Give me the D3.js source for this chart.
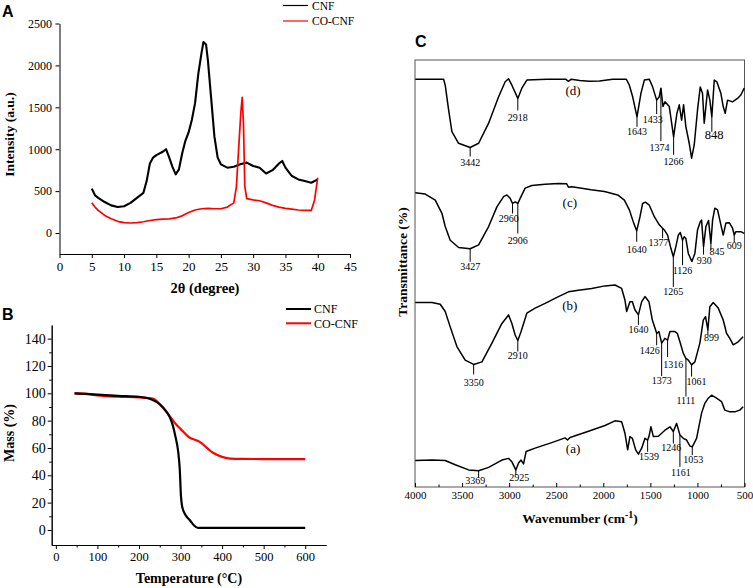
<!DOCTYPE html>
<html><head><meta charset="utf-8">
<script src="https://cdn.jsdelivr.net/npm/d3@7"></script>
<style>
body{margin:0;background:#fff}
svg{display:block}
.axis path,.axis line{stroke:#000;stroke-width:1}
</style>
</head><body>
<svg id="chart" width="753" height="588"></svg>
<script>
// ---------- Panel A: XRD ----------
const xrdTicksX = [0,5,10,15,20,25,30,35,40,45];
const xrdTicksY = [0,500,1000,1500,2000,2500];
const cnfTheta = [5,5.5,6,7,8,9,10,11,12,13,13.5,14,14.5,15,16,16.5,17,17.5,18,18.5,19,19.5,20,20.5,21,21.5,22,22.3,22.7,23,23.5,24,24.5,25,26,27,28,29,30,31,32,33,34,34.5,35,36,37,38,39,40];
const cnfIntensity = [530,450,420,370,330,310,320,360,420,480,620,830,900,930,970,1000,900,790,700,760,950,1100,1200,1350,1550,1900,2150,2280,2250,2050,1600,1150,900,820,780,790,820,840,800,780,710,750,830,860,780,680,640,620,600,640];
const coTheta = [5,5.5,6,7,8,9,10,11,12,13,14,15,16,17,18,19,20,21,22,23,24,25,26,27,27.4,27.8,28.1,28.3,28.5,28.7,29,30,31,32,33,34,35,36,37,38,39,39.5,40];
const coIntensity = [360,310,270,210,170,140,125,120,125,135,150,160,165,170,180,205,245,275,290,295,290,290,310,360,550,1070,1450,1620,1300,560,410,395,385,360,330,310,295,285,275,270,270,390,660];

// ---------- Panel B: TGA ----------
const tgaTicksX = [0,100,200,300,400,500,600];
const tgaTicksY = [0,20,40,60,80,100,120,140];
const cnfTemp = [45,100,150,200,230,250,265,280,288,294,298,301,304,312,322,332,342,400,500,600];
const cnfMass = [100,99,98.2,97.5,95.5,92,87,78,68,58,45,25,17,11,7.3,3.5,1.5,1.5,1.5,1.5];
const coTemp = [45,70,100,150,200,235,250,270,290,300,320,346,378,400,420,450,500,600];
const coMass = [100,99.8,98.5,97.5,97,96,92,85,77,74,68,64.5,56.5,53.5,52.2,52,51.9,51.8];

const seriesNames = ["CNF","CO-CNF"];
const seriesColors = ["#000000","#ff0000"];

// ---------- Panel C: FTIR ----------
const ftirTicks = [4000,3500,3000,2500,2000,1500,1000,500];
const wnD = [3997,3696,3679,3643,3608,3537,3414,3324,3218,3112,3042,3006,2971,2908,2865,2812,2600,2400,2370,2340,2250,2150,2040,1900,1755,1723,1688,1642,1600,1564,1511,1476,1433,1405,1388,1366,1345,1299,1253,1218,1193,1168,1147,1123,1087,1062,1034,999,970,946,928,892,868,847,821,794,751,726,705,680,627,574,539,503];
const tD = [95.5,95.5,94.1,88.3,83.2,80.5,79.5,80.5,85.2,91.4,94.9,95.6,94.1,91.0,93.4,95.3,95.5,95.5,95.0,95.5,95.2,95.0,95.1,95.5,95.5,94.1,91.4,86.7,92.2,95.3,95.5,93.7,90.6,91.4,93.4,89.1,90.2,89.1,82.0,87.5,89.5,85.9,89.5,84.4,80.5,77.0,80.1,88.3,93.7,92.2,85.2,93.0,90.6,86.7,95.3,94.9,92.2,89.1,87.5,90.6,90.2,91.0,91.8,93.4];
const wnC = [3997,3891,3785,3714,3679,3626,3537,3414,3324,3218,3130,3059,3024,2989,2964,2936,2908,2883,2830,2759,2618,2476,2388,2370,2335,2264,2130,1988,1847,1776,1723,1677,1645,1610,1582,1553,1511,1458,1405,1370,1352,1317,1282,1256,1229,1203,1182,1158,1140,1123,1097,1059,1027,999,970,956,935,910,882,857,839,815,786,751,726,698,662,627,609,592,539,503];
const tC = [68.9,68.6,67.2,64.1,61.0,57.8,56.1,55.8,56.7,61.0,65.6,68.0,68.4,67.6,66.4,66.8,66.4,67.6,70.0,70.6,70.9,71.1,71.0,70.2,70.3,70.1,69.6,69.2,68.4,67.2,64.9,61.8,60.0,63.3,66.4,66.7,66.0,63.3,61.4,60.6,60.2,59.0,55.9,53.9,56.3,59.0,59.6,57.8,58.6,58.2,54.7,52.8,54.7,60.2,62.1,62.5,56.3,61.0,62.4,57.1,62.5,65.3,64.9,61.4,59.0,61.8,61.9,60.6,59.0,59.8,59.8,59.4];
const wnB = [3997,3820,3732,3679,3626,3555,3467,3377,3289,3183,3077,3006,2971,2936,2908,2873,2812,2724,2618,2476,2370,2264,2123,1982,1876,1805,1770,1752,1717,1691,1664,1627,1592,1557,1515,1479,1433,1409,1380,1345,1317,1292,1239,1214,1186,1150,1122,1097,1062,1027,974,938,914,889,868,832,779,726,691,656,620,567,514];
const tB = [43.2,43.2,42.8,41.1,37.5,32.9,29.7,28.7,29.3,33.7,38.3,40.3,38.3,35.6,34.3,36.4,40.7,41.9,43.0,44.6,45.7,46.1,46.5,47.1,47.3,46.5,43.8,41.1,43.4,43.4,41.5,40.3,43.4,44.6,43.4,39.1,36.0,36.4,33.7,34.8,34.4,36.4,36.4,36.0,34.0,31.3,30.1,29.7,28.6,29.3,33.7,39.1,39.9,36.8,42.2,43.2,41.9,39.1,36.0,34.8,33.3,34.0,35.2];
const wnA = [3997,3820,3679,3573,3430,3324,3218,3077,3006,2971,2929,2900,2873,2847,2820,2724,2547,2406,2380,2353,2165,1982,1876,1805,1770,1741,1717,1691,1656,1627,1592,1557,1529,1515,1494,1468,1415,1345,1292,1256,1221,1186,1150,1115,1080,1055,1009,956,921,885,850,797,744,709,656,603,550,514];
const tA = [6.2,6.3,6.2,5.2,4.0,3.8,4.6,6.3,6.7,5.9,4.0,5.6,6.3,5.4,8.3,9.1,10.4,11.5,11.0,11.6,13.0,14.4,15.5,15.3,12.6,8.7,11.8,11.4,8.7,7.7,9.1,11.4,11.0,11.8,14.1,11.8,11.9,13.3,14.1,13.0,14.9,12.2,11.4,11.0,9.6,9.4,11.4,17.3,19.6,20.8,21.5,20.8,20.0,18.0,17.6,17.6,18.0,18.8];

// peak positions and their printed labels
const peaksD = [3414,2908,1642,1433,1388,1253,847];
const peakLabelsD = ["3442","2918","1643","1433","1374","1266","848"];
const peaksC = [3414,2964,2908,1645,1370,1256,1158,935,857,609];
const peakLabelsC = ["3427","2960","2906","1640","1377","1265","1126","930","845","609"];
const peaksB = [3377,2908,1627,1433,1380,1317,1122,1062,889];
const peakLabelsB = ["3350","2910","1640","1426","1373","1316","1111","1061","899"];
const peaksA = [3324,2929,1529,1256,1186,1055];
const peakLabelsA = ["3369","2925","1539","1246","1161","1053"];
const curveNames = ["(a)","(b)","(c)","(d)"];

// layout for leader lines: [length, label dx, label dy, font size]
const leadD = [[9,0,9.5,10],[12,0,11,10],[10,0,8.5,10],[14,-4,9,10],[53,-1.5,10,10],[18,0,10,10],[15,2.4,7.5,12.5]];
const leadC = [[13,0,8.5,10],[10,-3.7,8.5,10],[30,0,10.5,10],[11,0,11.6,10],[10,-4,8,10],[30,0,8.3,10],[25,0,9,10],[8,0.7,9,10],[6.7,6,5,10],[7,0,7,10]];
const leadB = [[10,0,11.7,10],[11,0,7.6,10],[10,0,8.3,10],[12,-7,9,10],[33,0,8.3,10],[17,5.7,11,10],[38,0,7.3,10],[11.7,5,8.3,10],[5,3.5,6,10]];
const leadA = [[7,-3.4,6,10],[5,3.3,6,10],[11.7,1.3,8.3,10],[12,-2,8,10],[32,1,9.4,10],[8.3,1,7.7,10]];
const curveLabelPos = [[2321,8.0],[2356,41.5],[2356,65.6],[2321,91.8]];

const SERIF = "'Liberation Serif','Times New Roman','DejaVu Serif',serif";
const SANS = "'Liberation Sans',Arial,sans-serif";
const fmt = d3.format("d");
const svg = d3.select("#chart");

// ================= Panel A =================
{
  const xA = d3.scaleLinear().domain([0,45]).range([59.5,350]);
  const yA = d3.scaleLinear().domain([-250,2500]).range([254,23.5]);
  const g = svg.append("g");
  g.append("g").attr("class","axis").attr("transform","translate(0,254)")
    .call(d3.axisBottom(xA).tickValues(xrdTicksX).tickFormat(fmt).tickSize(4).tickSizeOuter(0).tickPadding(4))
    .call(s=>s.selectAll("text").style("font-size","13px"));
  g.append("g").attr("class","axis").attr("transform","translate(59.5,0)")
    .call(d3.axisLeft(yA).tickValues(xrdTicksY).tickFormat(fmt).tickSize(4).tickSizeOuter(0).tickPadding(3.5))
    .call(s=>s.selectAll("text").style("font-size","12px"));
  const line = d3.line().x(d=>xA(d[0])).y(d=>yA(d[1]));
  g.append("path").datum(cnfTheta.map((t,i)=>[t,cnfIntensity[i]]))
    .attr("d",line).attr("fill","none").attr("stroke",seriesColors[0]).attr("stroke-width",2.1).attr("stroke-linejoin","round");
  g.append("path").datum(coTheta.map((t,i)=>[t,coIntensity[i]]))
    .attr("d",line).attr("fill","none").attr("stroke",seriesColors[1]).attr("stroke-width",1.7).attr("stroke-linejoin","round");
  seriesNames.forEach((n,i)=>{
    const y = 5.5 + i*15.5;
    g.append("line").attr("x1",283).attr("x2",308).attr("y1",y).attr("y2",y).attr("stroke",seriesColors[i]).attr("stroke-width",1.2);
    g.append("text").attr("x",312).attr("y",y+4.3).style("font-size","11.5px").text(n);
  });
  g.append("text").attr("transform","translate(14,134.5) rotate(-90)").attr("text-anchor","middle")
    .style("font-size","13.5px").style("font-weight","bold").text("Intensity (a.u.)");
  g.append("text").attr("x",205).attr("y",293).attr("text-anchor","middle")
    .style("font-size","14.5px").style("font-weight","bold").text("2θ (degree)");
  g.append("text").attr("class","letter").attr("x",2).attr("y",17).text("A");
}

// ================= Panel B =================
{
  const xB = d3.scaleLinear().domain([-10,650]).range([51.7,326]);
  const yB = d3.scaleLinear().domain([-11,150]).range([545,325]);
  const g = svg.append("g");
  const minorX = d3.range(50,650,100);
  const minorY = d3.range(10,150,20);
  g.append("g").attr("class","axis").attr("transform","translate(0,545)")
    .call(d3.axisBottom(xB).tickValues(minorX).tickSize(2.5).tickSizeOuter(0).tickFormat(""));
  g.append("g").attr("class","axis").attr("transform","translate(0,545)")
    .call(d3.axisBottom(xB).tickValues(tgaTicksX).tickFormat(fmt).tickSize(4).tickSizeOuter(0).tickPadding(3))
    .call(s=>s.selectAll("text").style("font-size","12.5px"));
  g.append("g").attr("class","axis").attr("transform","translate(51.7,0)")
    .call(d3.axisLeft(yB).tickValues(minorY).tickSize(2.5).tickSizeOuter(0).tickFormat(""));
  g.append("g").attr("class","axis").attr("transform","translate(51.7,0)")
    .call(d3.axisLeft(yB).tickValues(tgaTicksY).tickFormat(fmt).tickSize(4).tickSizeOuter(0).tickPadding(2))
    .call(s=>s.selectAll("text").style("font-size","14px"));
  const line = d3.line().x(d=>xB(d[0])).y(d=>yB(d[1])).curve(d3.curveMonotoneX);
  g.append("path").datum(coTemp.map((t,i)=>[t,coMass[i]]))
    .attr("d",line).attr("fill","none").attr("stroke",seriesColors[1]).attr("stroke-width",2.2);
  g.append("path").datum(cnfTemp.map((t,i)=>[t,cnfMass[i]]))
    .attr("d",line).attr("fill","none").attr("stroke",seriesColors[0]).attr("stroke-width",2.2);
  seriesNames.forEach((n,i)=>{
    const y = 309 + i*14.3;
    g.append("line").attr("x1",286).attr("x2",311).attr("y1",y).attr("y2",y).attr("stroke",seriesColors[i]).attr("stroke-width",2);
    g.append("text").attr("x",314).attr("y",y+4.3).style("font-size","12px").text(n);
  });
  g.append("text").attr("transform","translate(14,433) rotate(-90)").attr("text-anchor","middle")
    .style("font-size","14px").style("font-weight","bold").text("Mass (%)");
  g.append("text").attr("x",189).attr("y",583).attr("text-anchor","middle")
    .style("font-size","14px").style("font-weight","bold").text("Temperature (°C)");
  g.append("text").attr("class","letter").attr("x",2).attr("y",320).text("B");
}

// ================= Panel C =================
{
  const xC = d3.scaleLinear().domain([4000,500]).range([415,744.5]);
  const yC = d3.scaleLinear().domain([0,100]).range([487,60]);
  const g = svg.append("g");
  g.append("rect").attr("x",415).attr("y",60).attr("width",329.5).attr("height",427)
    .attr("fill","none").attr("stroke","#555").attr("stroke-width",1);
  const minor = d3.range(3750,500,-500);
  g.append("g").attr("class","axis").attr("transform","translate(0,487)")
    .call(d3.axisBottom(xC).tickValues(minor).tickSize(-2.5).tickSizeOuter(0).tickFormat(""))
    .call(s=>s.select(".domain").remove());
  g.append("g").attr("class","axis").attr("transform","translate(0,487)")
    .call(d3.axisBottom(xC).tickValues(ftirTicks).tickFormat(fmt).tickSize(-4).tickSizeOuter(0).tickPadding(4))
    .call(s=>s.select(".domain").remove())
    .call(s=>s.selectAll("text").style("font-size","11px"));
  const line = d3.line().x(d=>xC(d[0])).y(d=>yC(d[1]));
  const curves = [[wnA,tA,peaksA,peakLabelsA,leadA],[wnB,tB,peaksB,peakLabelsB,leadB],[wnC,tC,peaksC,peakLabelsC,leadC],[wnD,tD,peaksD,peakLabelsD,leadD]];
  curves.forEach(([wn,t,pk,pl,ld],ci)=>{
    const pts = wn.map((w,i)=>[w,t[i]]);
    g.append("path").datum(pts).attr("d",line).attr("fill","none")
      .attr("stroke","#000").attr("stroke-width",1.5).attr("stroke-linejoin","round");
    const interp = w=>{
      for(let i=0;i<pts.length-1;i++){
        const a=pts[i],b=pts[i+1];
        if((w<=a[0]&&w>=b[0])){const f=(a[0]-w)/(a[0]-b[0]);return a[1]+f*(b[1]-a[1]);}
      }
      return pts[pts.length-1][1];
    };
    pk.forEach((w,i)=>{
      const x = xC(w), y0 = yC(interp(w)), [len,dx,dy,fs] = ld[i];
      g.append("line").attr("x1",x).attr("x2",x).attr("y1",y0).attr("y2",y0+len)
        .attr("stroke","#000").attr("stroke-width",1);
      g.append("text").attr("x",x+dx).attr("y",y0+len+dy).attr("text-anchor","middle")
        .style("font-size",fs+"px").text(pl[i]);
    });
    const [lw,lt] = curveLabelPos[ci];
    g.append("text").attr("x",xC(lw)).attr("y",yC(lt)).attr("text-anchor","middle")
      .style("font-size","13px").text(curveNames[ci]);
  });
  g.append("text").attr("transform","translate(407,262) rotate(-90)").attr("text-anchor","middle")
    .style("font-size","13.5px").style("font-weight","bold").text("Transmittance (%)");
  const xt = g.append("text").attr("x",580).attr("y",523).attr("text-anchor","middle")
    .style("font-size","13.5px").style("font-weight","bold");
  xt.append("tspan").text("Wavenumber (cm");
  xt.append("tspan").attr("dy",-5).style("font-size","10px").text("-1");
  xt.append("tspan").attr("dy",5).text(")");
  g.append("text").attr("class","letter").attr("x",415).attr("y",47).text("C");
}

// fonts
svg.selectAll("text").style("font-family",SERIF).style("fill","#000");
svg.selectAll("text.letter").style("font-family",SANS).style("font-weight","bold").style("font-size","16px");
</script>
</body></html>
